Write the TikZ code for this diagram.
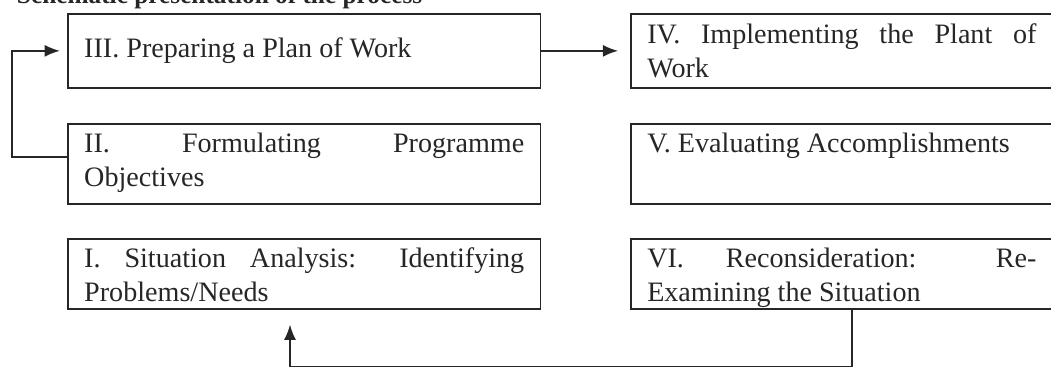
\documentclass[tikz,border=0pt]{standalone}
\usepackage{fontspec}
\setmainfont{Liberation Serif}
\usetikzlibrary{arrows.meta}

\tikzset{
    stage/.style={draw=black!85, line width=1.2pt, inner xsep=0.41cm, inner ysep=0.13cm,
        anchor=north west, text=black!85},
    flow/.style={draw=black!85, line width=1pt, -{Latex[length=0.38cm,width=0.3cm]}},
}

\begin{document}
\begin{tikzpicture}[font=\fontsize{20}{24}\selectfont]
    \useasboundingbox (0,0) rectangle (26.275,9.225);

    \node[anchor=base west, text=black!85, font=\fontsize{18}{21}\selectfont\bfseries] (title)
        at (0.3,9.14) {Schematic presentation of the process};

    % left column
    \node[stage] (plan) at (1.675,8.9)
        {\parbox[c][1.59cm][c]{11cm}{III. Preparing a Plan of Work}};
    \node[stage] (objectives) at (1.675,6.15)
        {\parbox[c][1.74cm][t]{11cm}{\strut II. Formulating Programme\linebreak Objectives}};
    \node[stage] (analysis) at (1.675,3.275)
        {\parbox[c][1.49cm][t]{11cm}{\strut I. Situation Analysis: Identifying\linebreak Problems/Needs}};

    % right column
    \node[stage] (implement) at (15.75,8.9)
        {\parbox[c][1.59cm][c]{9.73cm}{IV. Implementing the Plant of\linebreak Work}};
    \node[stage] (evaluate) at (15.75,6.15)
        {\parbox[c][1.74cm][t]{9.73cm}{\strut V. Evaluating Accomplishments}};
    \node[stage] (reconsider) at (15.75,3.275)
        {\parbox[c][1.49cm][t]{9.73cm}{\strut VI. Reconsideration: Re-\linebreak Examining the Situation}};

    \coordinate (loop-corner) at (0.3,5.3);
    \coordinate (back-right) at (21.3,0.06);
    \coordinate (back-left) at (7.25,0.06);

    \draw[flow, shorten >=0.3cm] (plan) -- (implement);
    \draw[flow, shorten >=0.18cm] (objectives.west |- loop-corner) -- (loop-corner) |- (plan.west);
    \draw[flow, shorten >=0.375cm] (reconsider.south -| back-right) -- (back-right)
        -- (back-left) -- (analysis.south -| back-left);

\end{tikzpicture}
\end{document}
